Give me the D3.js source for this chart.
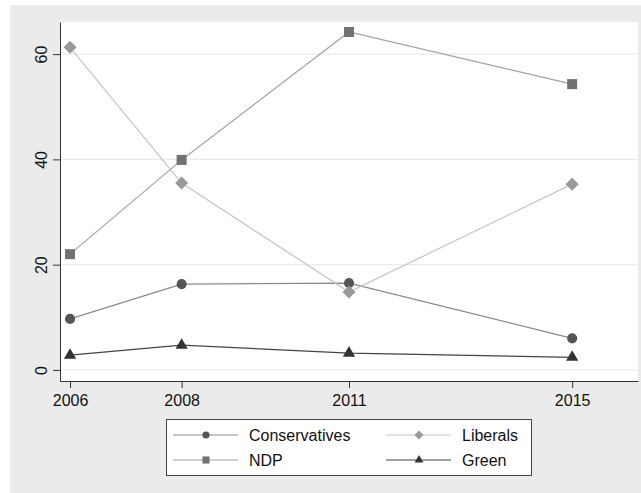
<!DOCTYPE html>
<html>
<head>
<meta charset="utf-8">
<script src="https://cdn.jsdelivr.net/npm/d3@7"></script>
<style>
  body { margin: 0; background: #fff; }
  text { font-family: "Liberation Sans", Arial, sans-serif; font-size: 16px; fill: #111; }
</style>
</head>
<body>
<svg id="chart" width="641" height="493"></svg>
<script>
// data
var years = [2006, 2008, 2011, 2015]
var conservatives = [9.7, 16.3, 16.5, 6.0]
var liberals = [61.3, 35.5, 14.8, 35.3]
var ndp = [22.0, 39.9, 64.2, 54.3]
var green = [2.8, 4.7, 3.2, 2.4]
var yTicks = [0, 20, 40, 60]
var seriesNames = ["Conservatives", "Liberals", "NDP", "Green"]

var margin = {left: 60, right: 3, top: 22, bottom: 112}
var width = 641, height = 493

var svg = d3.select("#chart")

// outer grey background
svg.append("rect")
   .attr("x", 10).attr("y", 5)
   .attr("width", width - 10).attr("height", height - 5)
   .attr("fill", "#ebebeb")

var xScale = d3.scaleLinear().domain([2005.82, 2016.18]).range([margin.left, width - margin.right])
var yScale = d3.scaleLinear().domain([-2.1, 66.1]).range([height - margin.bottom, margin.top])

// plot region
svg.append("rect")
   .attr("x", margin.left).attr("y", margin.top)
   .attr("width", width - margin.right - margin.left)
   .attr("height", height - margin.bottom - margin.top)
   .attr("fill", "#fff")

// gridlines
svg.append("g").selectAll("line")
   .data(yTicks)
   .join("line")
   .attr("x1", margin.left).attr("x2", width - margin.right)
   .attr("y1", d => yScale(d)).attr("y2", d => yScale(d))
   .attr("stroke", "#e6e6e6")
   .attr("stroke-width", 1)

// axes
var yAxis = svg.append("g")
   .attr("transform", "translate(" + margin.left + ",0)")
   .call(d3.axisLeft(yScale).tickValues(yTicks).tickSize(7).tickSizeOuter(0))
yAxis.select(".domain").attr("stroke", "#333")
yAxis.selectAll(".tick line").attr("stroke", "#333")
yAxis.selectAll(".tick text")
   .attr("x", 0).attr("y", -13).attr("dy", 0)
   .attr("transform", "rotate(-90)")
   .attr("text-anchor", "middle")
   .style("font-size", "16px")
   .style("font-family", "Liberation Sans, Arial, sans-serif")
   .attr("fill", "#111")

var xAxis = svg.append("g")
   .attr("transform", "translate(0," + (height - margin.bottom) + ")")
   .call(d3.axisBottom(xScale).tickValues(years).tickFormat(d3.format("d")).tickSize(7).tickSizeOuter(0))
xAxis.select(".domain").attr("stroke", "#333")
xAxis.selectAll(".tick line").attr("stroke", "#333")
xAxis.selectAll(".tick text")
   .attr("y", 25).attr("dy", 0)
   .style("font-size", "16px")
   .style("font-family", "Liberation Sans, Arial, sans-serif")
   .attr("fill", "#111")

// series table
var series = [
   {name: seriesNames[0], values: conservatives, line: "#8a8a8a", marker: "#555", symbol: d3.symbolCircle, size: 80, rot: 0, keySize: 40},
   {name: seriesNames[1], values: liberals, line: "#c4c4c4", marker: "#999", symbol: d3.symbolSquare, size: 85, rot: 45, keySize: 42},
   {name: seriesNames[2], values: ndp, line: "#a2a2a2", marker: "#727272", symbol: d3.symbolSquare, size: 100, rot: 0, keySize: 50},
   {name: seriesNames[3], values: green, line: "#444", marker: "#333", symbol: d3.symbolTriangle, size: 65, rot: 0, keySize: 34}
]

var line = d3.line()
   .x((d, i) => xScale(years[i]))
   .y(d => yScale(d))

var groups = svg.append("g").selectAll("g")
   .data(series)
   .join("g")

groups.append("path")
   .attr("d", d => line(d.values))
   .attr("fill", "none")
   .attr("stroke", d => d.line)
   .attr("stroke-width", 1.2)

groups.each(function(s) {
   d3.select(this).selectAll(".pt")
      .data(s.values)
      .join("path")
      .attr("class", "pt")
      .attr("d", d3.symbol().type(s.symbol).size(s.size))
      .attr("transform", (d, i) => "translate(" + xScale(years[i]) + "," + yScale(d) + ") rotate(" + s.rot + ")")
      .attr("fill", s.marker)
})

// legend
var legend = svg.append("g")
legend.append("rect")
   .attr("x", 166.5).attr("y", 419.5)
   .attr("width", 365).attr("height", 56)
   .attr("fill", "#fff")
   .attr("stroke", "#444")
   .attr("stroke-width", 1)

var colX = [173, 386]
var rowY = [435, 460]
series.forEach(function(s, i) {
   var cx = colX[i % 2], cy = rowY[Math.floor(i / 2)]
   var g = legend.append("g")
   g.append("line")
      .attr("x1", cx).attr("x2", cx + 65)
      .attr("y1", cy).attr("y2", cy)
      .attr("stroke", s.line).attr("stroke-width", 1.2)
   g.append("path")
      .attr("d", d3.symbol().type(s.symbol).size(s.keySize))
      .attr("transform", "translate(" + (cx + 33) + "," + cy + ") rotate(" + s.rot + ")")
      .attr("fill", s.marker)
   g.append("text")
      .attr("x", cx + 76).attr("y", cy + 6)
      .text(s.name)
})
</script>
</body>
</html>
